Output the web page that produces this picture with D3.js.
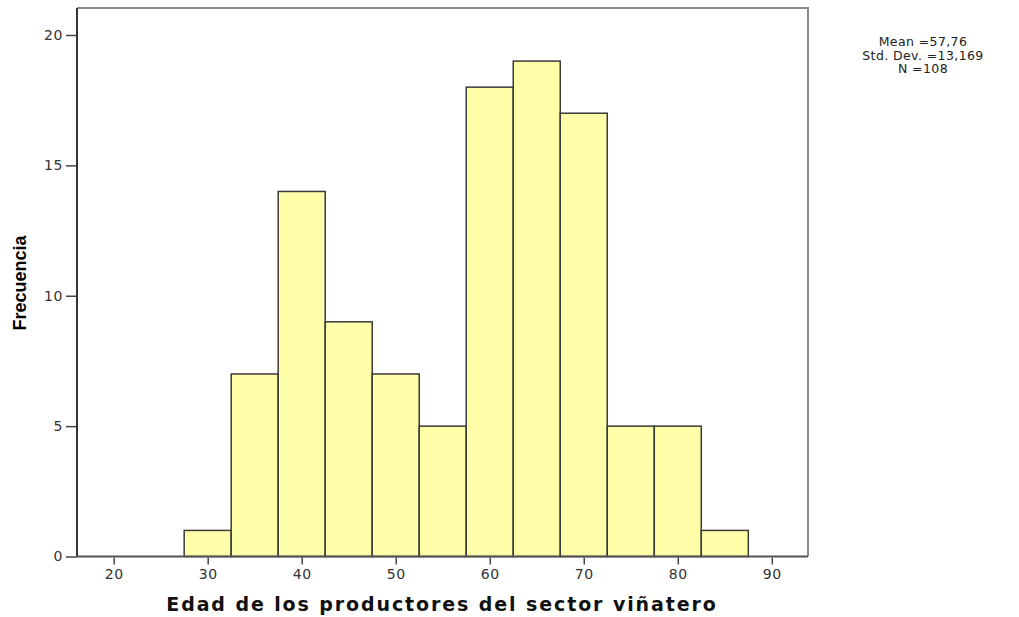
<!DOCTYPE html>
<html>
<head>
<meta charset="utf-8">
<script src="https://cdn.jsdelivr.net/npm/d3@7"></script>
<style>
  body { margin: 0; background: #fff; }
  text { font-family: "DejaVu Sans", Verdana, sans-serif; }
</style>
</head>
<body>
<div id="chart"></div>
<script>
// bins of 5 years, 27.5 .. 87.5
const binStarts = [27.5, 32.5, 37.5, 42.5, 47.5, 52.5, 57.5, 62.5, 67.5, 72.5, 77.5, 82.5]
const counts = [1, 7, 14, 9, 7, 5, 18, 19, 17, 5, 5, 1]
const binWidth = 5
const xTicks = [20, 30, 40, 50, 60, 70, 80, 90]
const yTicks = [0, 5, 10, 15, 20]
const statLines = ["Mean =57,76", "Std. Dev. =13,169", "N =108"]

const width = 1019
const height = 617
const plot = {left: 77, right: 808, top: 8, bottom: 556.5}

const svg = d3.select("#chart")
  .append("svg")
  .attr("width", width)
  .attr("height", height)

const x = d3.scaleLinear()
  .domain([16.1, 93.85])
  .range([plot.left, plot.right])

const y = d3.scaleLinear()
  .domain([0, 20])
  .range([plot.bottom, plot.bottom - 521.5])

// frame (top and right in gray)
svg.append("path")
  .attr("d", `M${plot.left},${plot.top}H${plot.right}V${plot.bottom}`)
  .attr("fill", "none")
  .attr("stroke", "#8a8a8a")
  .attr("stroke-width", 2)

const bins = binStarts.map((s, i) => ({x0: s, x1: s + binWidth, n: counts[i]}))

svg.append("g")
  .selectAll("rect")
  .data(bins)
  .join("rect")
  .attr("x", d => x(d.x0))
  .attr("y", d => y(d.n))
  .attr("width", d => x(d.x1) - x(d.x0))
  .attr("height", d => y(0) - y(d.n))
  .attr("fill", "#ffffaa")
  .attr("stroke", "#3a3a3a")
  .attr("stroke-width", 1.5)

// y axis
const yAxis = svg.append("g")
  .attr("transform", `translate(${plot.left},0)`)
  .call(d3.axisLeft(y).tickValues(yTicks).tickSize(11).tickPadding(3))
yAxis.select(".domain")
  .attr("d", `M0,${plot.bottom}V${plot.top}`)
  .attr("stroke", "#333")
  .attr("stroke-width", 2)

// x axis
const xAxis = svg.append("g")
  .attr("transform", `translate(0,${plot.bottom})`)
  .call(d3.axisBottom(x).tickValues(xTicks).tickSize(8).tickPadding(5))
xAxis.select(".domain")
  .attr("d", `M${plot.left},0H${plot.right}`)
  .attr("stroke", "#555")
  .attr("stroke-width", 2)

svg.selectAll(".tick line").attr("stroke", "#444").attr("stroke-width", 1.5)
svg.selectAll(".tick text")
  .style("font-size", "14px")
  .style("letter-spacing", "0.6px")
  .attr("fill", "#333")
xAxis.selectAll(".tick line").attr("y1", 1)

svg.append("text")
  .attr("x", 442)
  .attr("y", 611)
  .attr("text-anchor", "middle")
  .style("font-size", "19px")
  .style("font-weight", "bold")
  .style("letter-spacing", "1.9px")
  .attr("fill", "#111")
  .text("Edad de los productores del sector viñatero")

svg.append("text")
  .attr("transform", "translate(26,283) rotate(-90)")
  .attr("text-anchor", "middle")
  .style("font-family", "'Liberation Sans Narrow', 'Arial Narrow', sans-serif")
  .style("font-size", "18px")
  .style("font-weight", "bold")
  .text("Frecuencia")

svg.append("g")
  .selectAll("text")
  .data(statLines)
  .join("text")
  .attr("x", 923)
  .attr("y", (d, i) => 46 + i * 13.5)
  .attr("text-anchor", "middle")
  .style("font-size", "12.5px")
  .style("letter-spacing", "0.4px")
  .attr("fill", "#222")
  .text(d => d)
</script>
</body>
</html>
